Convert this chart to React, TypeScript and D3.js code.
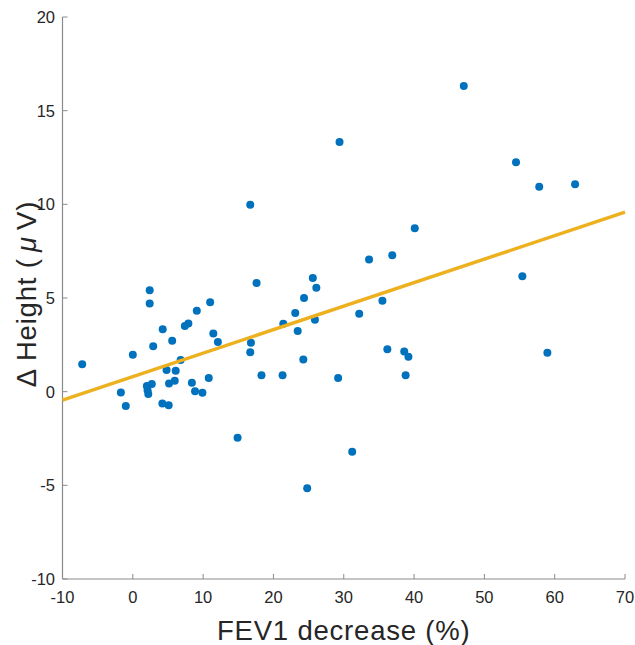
import React from "react";
import * as d3 from "d3";

const fevDecrease: number[] = [
  -7.2, -1.7, -1.0, 0.0, 2.4, 2.4, 4.25, 2.9, 2.0, 2.7, 2.1, 2.2,
  4.2, 5.1, 4.8, 5.15, 5.96, 6.1, 6.8, 5.6, 7.4, 7.9, 9.1, 11.0,
  11.45, 12.1, 8.4, 8.85, 9.9, 10.8, 14.9, 17.6, 16.7, 16.8, 18.3,
  16.7, 21.3, 21.4, 23.1, 23.45, 24.35, 24.25, 25.6, 26.1, 25.9,
  31.2, 29.2, 29.4, 33.6, 36.9, 40.1, 32.2, 35.5, 36.2, 38.6, 39.2,
  38.8, 24.8, 47.07, 54.5, 57.8, 62.9, 55.4, 58.96,
];
const deltaHeight: number[] = [
  1.46, -0.05, -0.77, 1.97, 5.41, 4.71, 3.33, 2.42, 0.3, 0.41, 0.07, -0.13,
  -0.63, -0.73, 1.15, 0.44, 0.58, 1.12, 1.69, 2.72, 3.5, 3.64, 4.32, 4.77,
  3.11, 2.65, 0.48, 0.02, -0.06, 0.73, -2.46, 5.8, 9.98, 2.61, 0.87,
  2.11, 0.87, 3.63, 4.2, 3.24, 5.0, 1.72, 6.07, 5.55, 3.84,
  -3.21, 0.73, 13.33, 7.06, 7.28, 8.72, 4.16, 4.85, 2.26, 2.15, 1.87,
  0.87, -5.15, 16.32, 12.24, 10.94, 11.07, 6.16, 2.08,
];
const fitIntercept = 0.8;
const fitSlope = 0.1255;
const xTicks: number[] = [-10, 0, 10, 20, 30, 40, 50, 60, 70];
const yTicks: number[] = [-10, -5, 0, 5, 10, 15, 20];

export default function App() {
  const W = 635, H = 645;
  const left = 62.5, right = 625, top = 17, bottom = 579;
  const x = d3.scaleLinear().domain([-10, 70]).range([left, right]);
  const y = d3.scaleLinear().domain([-10, 20]).range([bottom, top]);
  const line = d3.line<number>().x((d) => x(d)).y((d) => y(fitIntercept + fitSlope * d));
  const axisColor = "#8a8a8a";
  const textColor = "#262626";
  const font = "'Liberation Sans', Arial, Helvetica, sans-serif";
  return (
    <svg width={W} height={H} style={{ position: "fixed", left: 0, top: 0 }} fontFamily={font}>
      <rect width={W} height={H} fill="#fff" />
      <line x1={left} x2={left} y1={top} y2={bottom} stroke={axisColor} strokeWidth={1.2} />
      <line x1={left} x2={right} y1={bottom} y2={bottom} stroke={axisColor} strokeWidth={1.2} />
      {xTicks.map((t) => (
        <g key={"x" + t}>
          <line x1={x(t)} x2={x(t)} y1={bottom} y2={bottom - 5} stroke={axisColor} strokeWidth={1} />
          <text x={x(t)} y={603} textAnchor="middle" fontSize={16.5} fill={textColor}>{t}</text>
        </g>
      ))}
      {yTicks.map((t) => (
        <g key={"y" + t}>
          <line x1={left} x2={left + 5} y1={y(t)} y2={y(t)} stroke={axisColor} strokeWidth={1} />
          <text x={55} y={y(t) + 6} textAnchor="end" fontSize={16.5} fill={textColor}>{t}</text>
        </g>
      ))}
      {fevDecrease.map((v, i) => (
        <circle key={i} cx={x(v)} cy={y(deltaHeight[i])} r={4} fill="#0072BD" />
      ))}
      <path d={line([-10, 70]) || ""} stroke="#EDB120" strokeWidth={3.5} fill="none" />
      <text x={(left + right) / 2} y={640} textAnchor="middle" fontSize={27.5} letterSpacing={0.8} fill={textColor}>FEV1 decrease (%)</text>
      <text transform={`translate(36, 294) rotate(-90)`} textAnchor="middle" fontSize={27.5} letterSpacing={0.8} fill={textColor}>
        {"Δ Height (\u2009"}<tspan fontStyle="italic">μ</tspan>{"\u2009V)"}
      </text>
    </svg>
  );
}
